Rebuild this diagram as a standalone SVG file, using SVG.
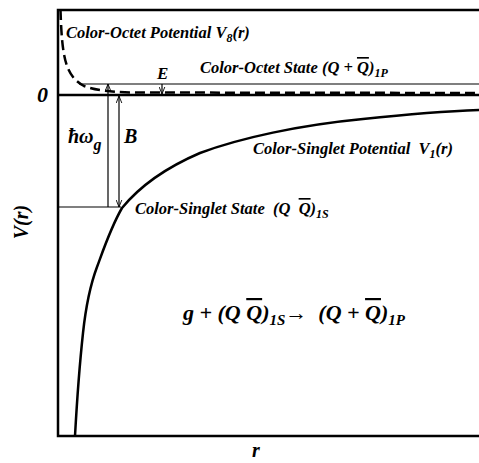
<svg xmlns="http://www.w3.org/2000/svg" width="479" height="463" viewBox="0 0 479 463">
<defs>
<style>
text{font-family:"Liberation Serif","Times New Roman",serif;font-weight:bold;font-style:italic;fill:#000}
.s{font-size:16.5px}
.l{font-size:20px}
.thin{stroke:#000;stroke-width:1.2;fill:none}
.ob{text-decoration:overline}
</style>
<marker id="ah" viewBox="0 0 10 10" refX="10" refY="5" markerWidth="7" markerHeight="7" orient="auto-start-reverse" markerUnits="userSpaceOnUse">
<path d="M0,1 L10,5 L0,9" fill="none" stroke="#000" stroke-width="1.3"/>
</marker>
</defs>
<rect width="479" height="463" fill="#fff"/>
<g id="frame">
<path d="M479,10 H58 V436 H479" fill="none" stroke="#000" stroke-width="2.5"/>
<line x1="58" y1="95" x2="479" y2="95" stroke="#000" stroke-width="2.5"/>
</g>
<g id="octet-potential">
<path d="M60.5,10 C62,60 66,76 84,86 C95,90 110,92 130,92.5 L479,93" fill="none" stroke="#000" stroke-width="2.5" stroke-dasharray="10,5"/>
</g>
<g id="singlet-potential">
<path d="M75,436 C77,400 79,370 83,333 C86,305 91,283 97,267 C104,248 111,227 122,208 C140,186 165,168 200,153 C240,138 300,125 363,119 C410,114 450,111 479,110" fill="none" stroke="#000" stroke-width="2.5"/>
</g>
<g id="octet-state">
<line x1="79" y1="84" x2="479" y2="84" class="thin"/>
</g>
<g id="singlet-state">
<line x1="58" y1="207" x2="121" y2="207" class="thin"/>
</g>
<g id="connectors">
<line x1="108" y1="207" x2="108" y2="84" class="thin" marker-end="url(#ah)"/>
<line x1="119" y1="96" x2="119" y2="207" class="thin" marker-start="url(#ah)" marker-end="url(#ah)"/>
<line x1="162" y1="84" x2="162" y2="94" class="thin" marker-end="url(#ah)"/>
</g>
<g id="labels">
<text x="66" y="38" class="s">Color-Octet Potential V<tspan dy="4" font-size="12">8</tspan><tspan dy="-4">(r)</tspan></text>
<text x="157" y="79" font-size="17">E</text>
<text x="200" y="73" class="s">Color-Octet State (Q + <tspan class="ob">Q</tspan>)<tspan dy="4" font-size="12">1P</tspan></text>
<text x="37" y="102" font-size="22">0</text>
<text x="68" y="143" class="l">ħω<tspan dy="7" font-size="16">g</tspan></text>
<text x="124" y="143" class="l">B</text>
<text x="253" y="154" class="s" xml:space="preserve">Color-Singlet Potential  V<tspan dy="4" font-size="12">1</tspan><tspan dy="-4">(r)</tspan></text>
<text x="135" y="214" class="s" xml:space="preserve">Color-Singlet State  (Q  <tspan class="ob">Q</tspan>)<tspan dy="4" font-size="12">1S</tspan></text>
<text transform="translate(28,222) rotate(-90)" text-anchor="middle" class="l">V(r)</text>
<text x="183" y="320" font-size="22" xml:space="preserve">g + (Q <tspan class="ob">Q</tspan>)<tspan dy="5" font-size="15">1S</tspan><tspan dy="-5" font-style="normal" font-weight="normal">→</tspan>  (Q + <tspan class="ob">Q</tspan>)<tspan dy="5" font-size="15">1P</tspan></text>
<text x="252" y="457" class="l">r</text>
</g>
</svg>
